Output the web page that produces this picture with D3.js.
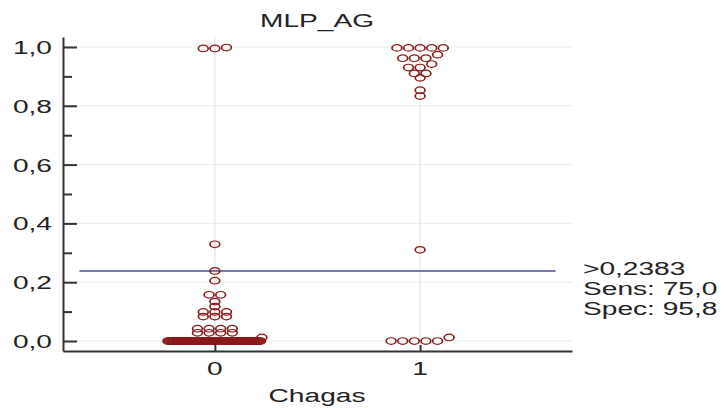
<!DOCTYPE html>
<html>
<head>
<meta charset="utf-8">
<script src="https://cdn.jsdelivr.net/npm/d3@7"></script>
<style>
  html, body { margin: 0; padding: 0; background: #fff; }
  text { font-family: "Liberation Sans", Arial, sans-serif; fill: #222; }
</style>
</head>
<body>
<svg id="viz"></svg>
<script>
// Chart data
const categories = [0, 1];
const categoryLabels = ["0", "1"];
const valuesNeg = [
  0.995, 0.995, 0.998,
  0.329, 0.2383, 0.205,
  0.157, 0.157,
  0.134, 0.117,
  0.099, 0.099, 0.099,
  0.083, 0.083, 0.083,
  0.042, 0.042, 0.042, 0.042,
  0.028, 0.028, 0.028, 0.028,
  0.012,
  0, 0, 0, 0, 0, 0, 0, 0, 0, 0,
  0, 0, 0, 0, 0, 0, 0, 0, 0, 0,
  0, 0, 0, 0, 0, 0, 0, 0, 0, 0,
  0, 0, 0, 0, 0, 0, 0, 0, 0, 0,
  0, 0, 0, 0, 0, 0, 0, 0, 0, 0,
  0, 0, 0, 0, 0, 0, 0, 0, 0, 0,
  0, 0, 0, 0, 0, 0, 0, 0, 0, 0,
  0
];
const valuesPos = [
  0.997, 0.997, 0.997, 0.997, 0.997,
  0.974, 0.962, 0.962, 0.962,
  0.942, 0.93, 0.93,
  0.91, 0.91, 0.895,
  0.853, 0.833,
  0.31,
  0.012, 0, 0, 0, 0, 0
];
const yTicks = [0, 0.2, 0.4, 0.6, 0.8, 1.0];
const yMinor = [0.1, 0.3, 0.5, 0.7, 0.9];
const cutoff = 0.2383;
const statLines = [">0,2383", "Sens: 75,0", "Spec: 95,8"];
const title = "MLP_AG";
const xTitle = "Chagas";

const width = 727, height = 408;
const STRETCH = 1.48;    // the picture is wider than tall
const STEP = 11.6;       // horizontal gap between dots in a row
const MAXW = 94;         // widest a row may get
const TOL = 0.013;       // values closer than this share a row

const svg = d3.select("#viz").attr("width", width).attr("height", height);

const x = d3.scaleLinear().domain([-0.74, 1.74]).range([63, 572]);
const y = d3.scaleLinear().domain([-0.034, 1.034]).range([351, 37]);

// grid
svg.append("g").selectAll("line").data(yTicks).join("line")
  .attr("x1", x.range()[0]).attr("x2", x.range()[1])
  .attr("y1", d => y(d)).attr("y2", d => y(d))
  .attr("stroke", "#ebebeb").attr("stroke-width", 1);
svg.append("g").selectAll("line").data(categories).join("line")
  .attr("x1", d => x(d)).attr("x2", d => x(d))
  .attr("y1", y.range()[1]).attr("y2", y.range()[0])
  .attr("stroke", "#dedede").attr("stroke-width", 1);

// cut-off line
svg.append("line")
  .attr("x1", x(-0.66)).attr("x2", x(1.66))
  .attr("y1", y(cutoff)).attr("y2", y(cutoff))
  .attr("stroke", "#4d4d98").attr("stroke-width", 1.6);

// dot rows: values close together share a row, centred on the category
function swarm(values, cat) {
  const sorted = values.slice().sort((a, b) => a - b);
  const rows = [];
  sorted.forEach(v => {
    const r = rows[rows.length - 1];
    if (r && v - r[0] < TOL) r.push(v); else rows.push([v]);
  });
  const pts = [];
  rows.forEach(r => {
    const n = r.length;
    const step = n > 1 ? Math.min(STEP, MAXW / (n - 1)) : 0;
    r.forEach((v, i) => pts.push({ cat, v, dx: (i - (n - 1) / 2) * step }));
  });
  return pts;
}

const points = swarm(valuesNeg, 0).concat(swarm(valuesPos, 1));

svg.append("g").selectAll("circle").data(points).join("circle")
  .attr("transform", d => `translate(${x(d.cat) + d.dx},${y(d.v)}) scale(${STRETCH},1)`)
  .attr("r", 3.3)
  .attr("fill", "none")
  .attr("stroke", "#8a1a1a")
  .attr("stroke-width", 1.15);

// axes
const yAxis = svg.append("g").attr("transform", `translate(${x.range()[0]},0)`)
  .call(d3.axisLeft(y).tickValues(yTicks).tickSize(-14).tickSizeOuter(0).tickFormat(""));
svg.append("g").attr("transform", `translate(${x.range()[0]},0)`)
  .call(d3.axisLeft(y).tickValues(yMinor).tickSize(-9).tickSizeOuter(0).tickFormat(""))
  .select(".domain").remove();
const xAxis = svg.append("g").attr("transform", `translate(0,${y.range()[0]})`)
  .call(d3.axisBottom(x).tickValues(categories).tickSize(-6).tickSizeOuter(0).tickFormat(""));
svg.selectAll(".domain, .tick line").attr("stroke", "#333").attr("stroke-width", 2);

// text, stretched like the picture
function label(txt, px, py, anchor, size) {
  svg.append("text")
    .attr("transform", `translate(${px},${py}) scale(${STRETCH},1)`)
    .attr("text-anchor", anchor)
    .style("font-size", size + "px")
    .text(txt);
}

yTicks.forEach(d => label(d3.format(".1f")(d).replace(".", ","), 52, y(d) + 7, "end", 19));
categories.forEach((c, i) => label(categoryLabels[i], x(c), 375, "middle", 19));
label(title, 317, 27, "middle", 19);
label(xTitle, 317, 402, "middle", 19);
statLines.forEach((s, i) => label(s, 583, y(cutoff) + 4.5 + i * 20, "start", 19));
</script>
</body>
</html>
